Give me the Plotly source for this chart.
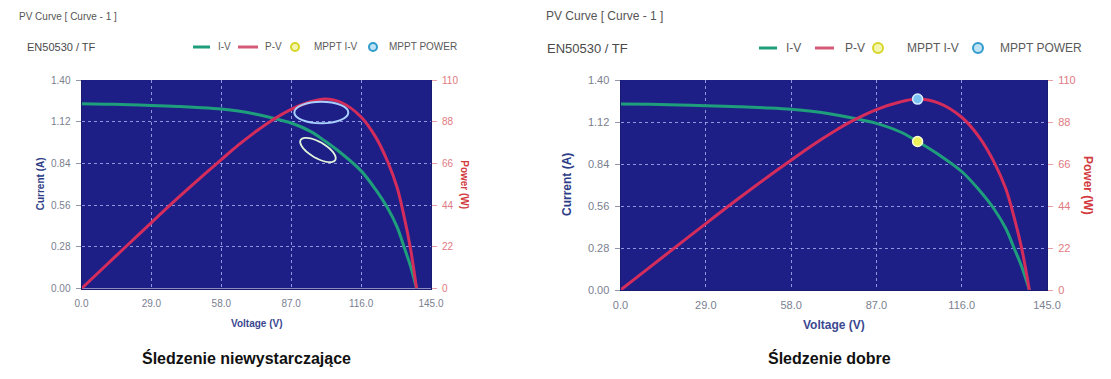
import math
import plotly.graph_objects as go

W, H = 1111, 379
FONT = "Liberation Sans, Arial, sans-serif"

# ---------------- data ----------------
voltage = [0, 10, 20, 29, 40, 50, 58, 65, 72, 78, 87, 95, 101, 108, 116, 122, 127, 131, 134, 136.5, 139]
current = [1.240, 1.238, 1.234, 1.229, 1.222, 1.214, 1.205, 1.192, 1.172, 1.150, 1.111, 1.055, 0.990,
           0.905, 0.790, 0.665, 0.540, 0.410, 0.270, 0.150, 0.0]
power = [0, 12.0, 24.0, 34.8, 47.8, 59.2, 68.0, 75.6, 82.5, 87.9, 94.5, 98.5, 100.0,
         98.0, 90.5, 80.0, 67.0, 53.0, 37.0, 21.0, 0]

mppt_voltage = [101]
mppt_current = [0.99]
mppt_power = [100]

x_tickvals = [0, 29, 58, 87, 116, 145]
x_ticktext = ["0.0", "29.0", "58.0", "87.0", "116.0", "145.0"]
i_tickvals = [0, 0.28, 0.56, 0.84, 1.12, 1.40]
i_ticktext = ["0.00", "0.28", "0.56", "0.84", "1.12", "1.40"]
p_tickvals = [0, 22, 44, 66, 88, 110]
p_ticktext = ["0", "22", "44", "66", "88", "110"]

chart_title = "PV Curve [ Curve - 1 ]"
chart_subtitle = "EN50530 / TF"
legend_names = ["I-V", "P-V", "MPPT I-V", "MPPT POWER"]
captions = ["Śledzenie niewystarczające", "Śledzenie dobre"]

# ---------------- styling ----------------
BG = "#1e1f86"
GRID = "rgba(165,170,235,0.85)"
GREEN = "#1f9e7c"
RED = "#d42d5c"
TICK_GRAY = "#7a8090"
LEG_GRAY = "#5a5a5a"

# panel geometry in pixels (left, right, top, bottom) + font sizes
panels = [
    dict(l=81.5, r=431, t=80, b=288.5, fs=10, tfs=10,
         cur_title_x=40, pow_title_x=465, volt_title_y=323, caption_x=246,
         title_xy=(17, 16), sub_xy=(25, 47),
         leg=dict(y=47, g=(193, 210), gt=216, r=(238, 258), rt=263, yc=295, yt=312, bc=373, bt=387, rad=4)),
    dict(l=620.5, r=1047, t=80, b=290, fs=11, tfs=12,
         cur_title_x=567, pow_title_x=1088, volt_title_y=325, caption_x=829,
         title_xy=(544, 16), sub_xy=(545, 48),
         leg=dict(y=48, g=(759, 777), gt=784, r=(815, 834), rt=843, yc=878, yt=905, bc=978, bt=998, rad=5)),
]


def px(x):
    return x / W


def py(y):
    return 1 - y / H


fig = go.Figure()

axis_ids = [("x", "y", "y2"), ("x2", "y3", "y4")]

for k, (p, (xa, ya, ya2)) in enumerate(zip(panels, axis_ids)):
    fig.add_trace(go.Scatter(x=voltage, y=current, xaxis=xa, yaxis=ya, mode="lines",
                             line=dict(color=GREEN, width=3, shape="spline", smoothing=1.0),
                             name="I-V", showlegend=False))
    fig.add_trace(go.Scatter(x=voltage, y=power, xaxis=xa, yaxis=ya2, mode="lines",
                             line=dict(color=RED, width=3, shape="spline", smoothing=1.0),
                             name="P-V", showlegend=False))
    if k == 1:
        fig.add_trace(go.Scatter(x=mppt_voltage, y=mppt_current, xaxis=xa, yaxis=ya, mode="markers",
                                 marker=dict(size=10, color="#eef25a", line=dict(color="#fbffd8", width=1.5)),
                                 name="MPPT I-V", showlegend=False))
        fig.add_trace(go.Scatter(x=mppt_voltage, y=mppt_power, xaxis=xa, yaxis=ya2, mode="markers",
                                 marker=dict(size=10, color="#79c2f2", line=dict(color="#d6ecff", width=1.5)),
                                 name="MPPT POWER", showlegend=False))

layout_axes = {}
for k, p in enumerate(panels):
    xd = [px(p["l"]), px(p["r"])]
    yd = [py(p["b"]), py(p["t"])]
    xname = "xaxis" if k == 0 else "xaxis2"
    yname = "yaxis" if k == 0 else "yaxis3"
    y2name = "yaxis2" if k == 0 else "yaxis4"
    xref = "x" if k == 0 else "x2"
    yref = "y" if k == 0 else "y3"
    layout_axes[xname] = dict(domain=xd, anchor=yref, range=[0, 145], tickvals=x_tickvals, ticktext=x_ticktext,
                              showgrid=True, gridcolor=GRID, griddash="dot", gridwidth=1, zeroline=False,
                              showline=True, linecolor="#1a1a70", linewidth=1, ticks="", ticklabelstandoff=5,
                              automargin=False,
                              tickfont=dict(family=FONT, size=p["fs"], color=TICK_GRAY), fixedrange=True)
    layout_axes[yname] = dict(domain=yd, anchor=xref, range=[0, 1.4], tickvals=i_tickvals, ticktext=i_ticktext,
                              showgrid=True, gridcolor=GRID, griddash="dot", gridwidth=1, zeroline=False,
                              showline=True, linecolor="#1a1a70", linewidth=1, automargin=False,
                              ticks="outside", ticklen=5, tickcolor="#9098a8", ticklabelstandoff=3,
                              tickfont=dict(family=FONT, size=p["fs"], color=TICK_GRAY), fixedrange=True)
    layout_axes[y2name] = dict(overlaying=yref, anchor=xref, side="right", range=[0, 110], tickvals=p_tickvals,
                               ticktext=p_ticktext, showgrid=False, zeroline=False, showline=True,
                               linecolor="#1a1a70", ticks="outside", ticklen=5, tickcolor="#e8a0a8",
                               ticklabelstandoff=3, automargin=False,
                               tickfont=dict(family=FONT, size=p["fs"], color="#e07a82"), fixedrange=True)

annotations = []
shapes = []


def label(x, y, text, size, color, weight="normal", xanchor="center", angle=0):
    annotations.append(dict(x=px(x), y=py(y), xref="paper", yref="paper", text=text, showarrow=False,
                            xanchor=xanchor, yanchor="middle", textangle=angle,
                            font=dict(family=FONT, size=size, color=color, weight=weight)))


for k, p in enumerate(panels):
    fs, tfs = p["fs"], p["tfs"]
    mid_y = (p["t"] + p["b"]) / 2
    mid_x = (p["l"] + p["r"]) / 2
    # header texts
    label(p["title_xy"][0], p["title_xy"][1], chart_title, tfs, "#555555", xanchor="left")
    label(p["sub_xy"][0], p["sub_xy"][1], chart_subtitle, tfs + 1, "#4a4a4a", xanchor="left")
    # axis titles
    label(p["cur_title_x"], mid_y, "Current (A)", tfs, "#2c3c86", "bold", angle=-90)
    label(p["pow_title_x"], mid_y, "Power (W)", tfs, "#d23a40", "bold", angle=90)
    label(mid_x, p["volt_title_y"], "Voltage (V)", tfs, "#3a4890", "bold")
    # caption
    label(p["caption_x"], 358, captions[k], 16, "#111111", "bold")
    # legend (drawn manually)
    lg = p["leg"]
    ly = py(lg["y"])
    shapes.append(dict(type="line", xref="paper", yref="paper", x0=px(lg["g"][0]), x1=px(lg["g"][1]),
                       y0=ly, y1=ly, line=dict(color=GREEN, width=3)))
    shapes.append(dict(type="line", xref="paper", yref="paper", x0=px(lg["r"][0]), x1=px(lg["r"][1]),
                       y0=ly, y1=ly, line=dict(color="#d45a78", width=3)))
    rad = lg["rad"]
    shapes.append(dict(type="circle", xref="paper", yref="paper",
                       x0=px(lg["yc"] - rad), x1=px(lg["yc"] + rad),
                       y0=py(lg["y"] + rad), y1=py(lg["y"] - rad),
                       fillcolor="#f4f6b0", line=dict(color="#d6d62a", width=2)))
    shapes.append(dict(type="circle", xref="paper", yref="paper",
                       x0=px(lg["bc"] - rad), x1=px(lg["bc"] + rad),
                       y0=py(lg["y"] + rad), y1=py(lg["y"] - rad),
                       fillcolor="#bfe2f6", line=dict(color="#2f9ccc", width=2)))
    for name, tx in zip(legend_names, [lg["gt"], lg["rt"], lg["yt"], lg["bt"]]):
        label(tx, lg["y"], name, tfs, LEG_GRAY, xanchor="left")

# hand-drawn highlight ellipses on the left chart (poor tracking)
p0 = panels[0]
sx = (p0["r"] - p0["l"]) / 145.0      # px per volt
sy = (p0["b"] - p0["t"]) / 1.4        # px per amp
shapes.append(dict(type="circle", xref="x", yref="y", x0=88.3, x1=110.7, y0=1.109, y1=1.254,
                   line=dict(color="#a9cfff", width=2)))
cV, cI, a_px, b_px, ang = 98.1, 0.93, 20.0, 8.0, math.radians(30)
pts = []
for j in range(49):
    t = 2 * math.pi * j / 48
    dx = a_px * math.cos(t) * math.cos(ang) - b_px * math.sin(t) * math.sin(ang)
    dy = a_px * math.cos(t) * math.sin(ang) + b_px * math.sin(t) * math.cos(ang)
    pts.append((cV + dx / sx, cI - dy / sy))
path = "M " + " L ".join(f"{v:.3f},{i:.4f}" for v, i in pts) + " Z"
shapes.append(dict(type="path", xref="x", yref="y", path=path, line=dict(color="#e2f4da", width=1.8)))

fig.update_layout(
    width=W, height=H, autosize=False,
    margin=dict(l=0, r=0, t=0, b=0),
    paper_bgcolor="white", plot_bgcolor=BG,
    showlegend=False,
    annotations=annotations, shapes=shapes,
    **layout_axes,
)

fig.write_html("out.html", config={"displayModeBar": False, "staticPlot": True},
               post_script="document.body.style.margin='0';document.body.style.padding='0';"
                           "document.documentElement.style.overflow='hidden';")
